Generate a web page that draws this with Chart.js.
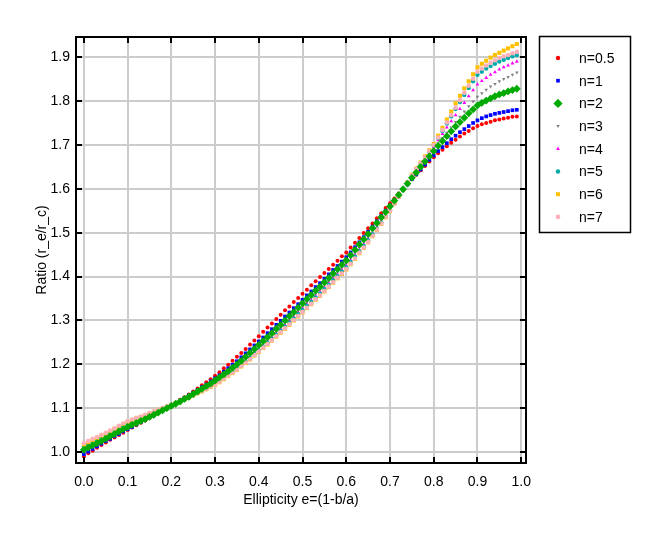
<!DOCTYPE html>
<html>
<head>
<meta charset="utf-8">
<script src="https://cdn.jsdelivr.net/npm/chart.js@4.4.0/dist/chart.umd.min.js"></script>
<style>
  html, body { margin: 0; padding: 0; background: #ffffff; }
  canvas { display: block; }
</style>
</head>
<body>
<canvas id="c" width="663" height="542" style="width:663px;height:542px"></canvas>
<script>
// ---------- DATA ----------
const ellipticity = [
  0.00,0.01,0.02,0.03,0.04,0.05,0.06,0.07,0.08,0.09,
  0.10,0.11,0.12,0.13,0.14,0.15,0.16,0.17,0.18,0.19,
  0.20,0.21,0.22,0.23,0.24,0.25,0.26,0.27,0.28,0.29,
  0.30,0.31,0.32,0.33,0.34,0.35,0.36,0.37,0.38,0.39,
  0.40,0.41,0.42,0.43,0.44,0.45,0.46,0.47,0.48,0.49,
  0.50,0.51,0.52,0.53,0.54,0.55,0.56,0.57,0.58,0.59,
  0.60,0.61,0.62,0.63,0.64,0.65,0.66,0.67,0.68,0.69,
  0.70,0.71,0.72,0.73,0.74,0.75,0.76,0.77,0.78,0.79,
  0.80,0.81,0.82,0.83,0.84,0.85,0.86,0.87,0.88,0.89,
  0.90,0.91,0.92,0.93,0.94,0.95,0.96,0.97,0.98,0.99
];

const ratio_n05 = [
  0.990,0.997,1.003,1.010,1.016,1.022,1.028,1.033,1.039,1.044,
  1.050,1.056,1.061,1.067,1.072,1.078,1.083,1.089,1.094,1.100,
  1.106,1.112,1.119,1.125,1.131,1.138,1.145,1.152,1.159,1.166,
  1.174,1.182,1.191,1.199,1.208,1.217,1.226,1.235,1.245,1.254,
  1.264,1.274,1.284,1.293,1.303,1.313,1.323,1.332,1.342,1.351,
  1.361,1.370,1.380,1.389,1.399,1.408,1.417,1.427,1.436,1.446,
  1.455,1.466,1.477,1.488,1.499,1.510,1.521,1.533,1.544,1.556,
  1.567,1.578,1.589,1.600,1.611,1.622,1.632,1.642,1.652,1.662,
  1.672,1.681,1.689,1.697,1.705,1.712,1.719,1.726,1.732,1.738,
  1.743,1.747,1.750,1.753,1.756,1.758,1.760,1.762,1.764,1.765
];

const ratio_n1 = [
  0.995,1.001,1.007,1.013,1.019,1.025,1.030,1.036,1.041,1.047,
  1.052,1.057,1.063,1.068,1.074,1.079,1.084,1.090,1.095,1.100,
  1.105,1.111,1.117,1.123,1.129,1.135,1.141,1.148,1.154,1.161,
  1.168,1.175,1.183,1.191,1.199,1.207,1.216,1.225,1.234,1.243,
  1.252,1.261,1.271,1.280,1.290,1.299,1.309,1.318,1.328,1.337,
  1.347,1.357,1.366,1.376,1.385,1.395,1.405,1.415,1.424,1.434,
  1.444,1.455,1.467,1.478,1.490,1.502,1.514,1.526,1.538,1.550,
  1.562,1.574,1.586,1.598,1.610,1.622,1.633,1.644,1.655,1.666,
  1.676,1.686,1.695,1.704,1.713,1.721,1.729,1.736,1.743,1.750,
  1.756,1.761,1.765,1.768,1.771,1.773,1.775,1.777,1.779,1.780
];

const ratio_n2 = [
  1.005,1.010,1.015,1.020,1.025,1.030,1.036,1.041,1.047,1.052,
  1.057,1.062,1.066,1.071,1.075,1.080,1.085,1.090,1.095,1.100,
  1.105,1.110,1.115,1.121,1.126,1.132,1.138,1.144,1.150,1.156,
  1.163,1.170,1.177,1.184,1.192,1.200,1.208,1.217,1.226,1.235,
  1.244,1.253,1.262,1.271,1.281,1.290,1.300,1.310,1.319,1.329,
  1.339,1.349,1.358,1.368,1.377,1.387,1.397,1.407,1.417,1.427,
  1.437,1.449,1.461,1.473,1.485,1.497,1.510,1.522,1.535,1.547,
  1.560,1.573,1.586,1.599,1.612,1.625,1.637,1.650,1.662,1.674,
  1.686,1.698,1.709,1.720,1.731,1.742,1.752,1.762,1.772,1.781,
  1.790,1.796,1.801,1.806,1.811,1.815,1.818,1.822,1.825,1.828
];

const ratio_n3 = [
  1.007,1.012,1.017,1.022,1.027,1.032,1.038,1.044,1.049,1.055,
  1.060,1.064,1.069,1.073,1.078,1.082,1.087,1.091,1.096,1.100,
  1.105,1.110,1.115,1.120,1.126,1.131,1.137,1.142,1.148,1.154,
  1.160,1.167,1.174,1.181,1.188,1.196,1.204,1.212,1.221,1.229,
  1.238,1.247,1.256,1.266,1.275,1.284,1.294,1.303,1.313,1.322,
  1.332,1.342,1.351,1.361,1.370,1.380,1.390,1.400,1.410,1.420,
  1.430,1.442,1.454,1.466,1.479,1.491,1.504,1.517,1.530,1.543,
  1.556,1.570,1.584,1.598,1.612,1.626,1.639,1.652,1.666,1.679,
  1.692,1.704,1.716,1.728,1.740,1.752,1.764,1.776,1.788,1.799,
  1.810,1.818,1.826,1.833,1.839,1.845,1.850,1.855,1.860,1.865
];

const ratio_n4 = [
  1.010,1.015,1.020,1.025,1.030,1.035,1.041,1.046,1.052,1.057,
  1.063,1.067,1.071,1.076,1.080,1.084,1.088,1.093,1.097,1.102,
  1.106,1.111,1.115,1.120,1.125,1.130,1.135,1.141,1.146,1.152,
  1.158,1.165,1.172,1.179,1.186,1.193,1.201,1.209,1.217,1.226,
  1.234,1.243,1.252,1.262,1.271,1.280,1.289,1.299,1.308,1.318,
  1.327,1.337,1.346,1.356,1.365,1.375,1.385,1.395,1.405,1.415,
  1.425,1.437,1.449,1.461,1.474,1.486,1.499,1.513,1.526,1.540,
  1.553,1.568,1.583,1.597,1.612,1.627,1.641,1.655,1.669,1.682,
  1.696,1.711,1.725,1.740,1.754,1.768,1.782,1.796,1.811,1.825,
  1.838,1.846,1.853,1.860,1.866,1.872,1.877,1.881,1.886,1.890
];

const ratio_n5 = [
  1.013,1.018,1.023,1.028,1.033,1.038,1.044,1.049,1.055,1.060,
  1.066,1.070,1.074,1.078,1.082,1.086,1.090,1.094,1.099,1.103,
  1.107,1.111,1.116,1.120,1.125,1.130,1.135,1.140,1.145,1.151,
  1.156,1.162,1.169,1.176,1.183,1.190,1.198,1.206,1.214,1.223,
  1.231,1.240,1.249,1.258,1.267,1.276,1.285,1.295,1.304,1.314,
  1.323,1.333,1.342,1.352,1.361,1.371,1.381,1.391,1.401,1.411,
  1.421,1.433,1.445,1.457,1.470,1.482,1.496,1.509,1.523,1.537,
  1.551,1.567,1.582,1.598,1.613,1.629,1.643,1.657,1.671,1.685,
  1.699,1.716,1.732,1.749,1.765,1.782,1.798,1.814,1.830,1.845,
  1.860,1.867,1.874,1.880,1.885,1.890,1.894,1.898,1.902,1.905
];

const ratio_n6 = [
  1.017,1.022,1.027,1.032,1.037,1.042,1.048,1.053,1.058,1.064,
  1.069,1.073,1.077,1.080,1.084,1.088,1.092,1.096,1.099,1.103,
  1.107,1.111,1.115,1.120,1.124,1.129,1.134,1.138,1.143,1.148,
  1.153,1.159,1.166,1.173,1.180,1.187,1.195,1.203,1.211,1.220,
  1.228,1.237,1.245,1.254,1.263,1.272,1.281,1.290,1.300,1.309,
  1.318,1.328,1.337,1.347,1.356,1.366,1.376,1.386,1.396,1.406,
  1.416,1.428,1.440,1.453,1.465,1.478,1.492,1.506,1.520,1.535,
  1.549,1.566,1.582,1.599,1.615,1.632,1.646,1.660,1.674,1.688,
  1.702,1.721,1.739,1.758,1.776,1.795,1.812,1.829,1.845,1.861,
  1.877,1.885,1.892,1.899,1.905,1.910,1.915,1.920,1.925,1.930
];

const ratio_n7 = [
  1.020,1.025,1.030,1.034,1.039,1.044,1.049,1.054,1.060,1.065,
  1.070,1.074,1.078,1.081,1.085,1.089,1.093,1.097,1.100,1.104,
  1.108,1.112,1.116,1.121,1.125,1.130,1.135,1.139,1.144,1.149,
  1.154,1.160,1.167,1.174,1.181,1.188,1.196,1.204,1.212,1.221,
  1.229,1.238,1.246,1.255,1.264,1.273,1.282,1.291,1.301,1.310,
  1.319,1.329,1.338,1.348,1.357,1.367,1.377,1.387,1.397,1.407,
  1.417,1.429,1.441,1.454,1.466,1.479,1.493,1.507,1.521,1.536,
  1.550,1.566,1.582,1.599,1.615,1.631,1.645,1.659,1.672,1.686,
  1.700,1.717,1.734,1.751,1.768,1.785,1.802,1.819,1.835,1.851,
  1.867,1.874,1.881,1.887,1.893,1.898,1.902,1.905,1.909,1.912
];

const seriesLabels = ["n=0.5","n=1","n=2","n=3","n=4","n=5","n=6","n=7"];
const seriesValues = [ratio_n05, ratio_n1, ratio_n2, ratio_n3, ratio_n4, ratio_n5, ratio_n6, ratio_n7];

// ---------- STYLES ----------
const styles = [
  {color:"#ff0000", shape:"circle",   r:2.0, lr:2.2, rot:0, order:7},
  {color:"#0000ff", shape:"rect",     r:2.6, lr:2.6, rot:0, order:6},
  {color:"#00aa00", shape:"rectRot",  r:3.9, lr:4.6, rot:0, order:-1},
  {color:"#808080", shape:"triangle", r:2.0, lr:2.0, rot:180, order:4},
  {color:"#ff00ff", shape:"triangle", r:2.2, lr:2.2, rot:0, order:3},
  {color:"#00aaaa", shape:"circle",   r:2.2, lr:2.2, rot:0, order:2},
  {color:"#ffc000", shape:"rect",     r:2.9, lr:2.8, rot:0, order:1},
  {color:"#ffb0b8", shape:"circle",   r:2.3, lr:2.3, rot:0, order:0}
];

const FONT = "'Liberation Sans', Arial, Helvetica, sans-serif";

const datasets = seriesValues.map((vals, i) => ({
  label: seriesLabels[i],
  data: vals.map((v, k) => ({x: ellipticity[k], y: v})),
  pointStyle: styles[i].shape,
  pointRadius: styles[i].r,
  pointRotation: styles[i].rot,
  pointBackgroundColor: styles[i].color,
  pointBorderColor: styles[i].color,
  pointBorderWidth: 0,
  showLine: false,
  order: styles[i].order
}));

const framePlugin = {
  id: 'frameLegend',
  afterDraw(chart) {
    const ctx = chart.ctx;
    const a = chart.chartArea;
    const xs = chart.scales.x, ys = chart.scales.y;
    ctx.save();
    ctx.strokeStyle = '#000';
    ctx.lineWidth = 2;
    ctx.strokeRect(a.left, a.top, a.right - a.left, a.bottom - a.top);
    const TL = 6;
    ctx.beginPath();
    xs.ticks.forEach(t => {
      const px = Math.round(xs.getPixelForValue(t.value));
      ctx.moveTo(px, a.bottom); ctx.lineTo(px, a.bottom - TL);
      ctx.moveTo(px, a.top); ctx.lineTo(px, a.top + TL);
    });
    ys.ticks.forEach(t => {
      const py = Math.round(ys.getPixelForValue(t.value));
      ctx.moveTo(a.left, py); ctx.lineTo(a.left + TL, py);
      ctx.moveTo(a.right, py); ctx.lineTo(a.right - TL, py);
    });
    ctx.stroke();

    // legend
    const bx = 539.5, by = 36.5, bw = 91, bh = 196;
    ctx.lineWidth = 1.5;
    ctx.strokeStyle = '#000';
    ctx.fillStyle = '#fff';
    ctx.fillRect(bx, by, bw, bh);
    ctx.strokeRect(bx, by, bw, bh);
    ctx.font = '14px ' + FONT;
    ctx.textBaseline = 'middle';
    ctx.textAlign = 'left';
    seriesLabels.forEach((lab, i) => {
      const y = 58 + i * 22.7;
      const s = styles[i];
      ctx.fillStyle = s.color;
      ctx.strokeStyle = s.color;
      ctx.lineWidth = 0;
      Chart.helpers.drawPoint(ctx, {pointStyle: s.shape, radius: s.lr, rotation: s.rot, borderWidth: 0}, 558, y);
      ctx.fillStyle = '#000';
      ctx.fillText(lab, 579, y + 1);
    });
    ctx.restore();
  }
};

new Chart(document.getElementById('c'), {
  type: 'scatter',
  data: { datasets },
  options: {
    responsive: false,
    animation: false,
    devicePixelRatio: 1,
    layout: { padding: { left: 0, top: 37, right: 137, bottom: 0 } },
    plugins: { legend: { display: false }, tooltip: { enabled: false } },
    scales: {
      x: {
        type: 'linear',
        min: -0.018, max: 1.011,
        afterFit: s => { s.height = 79; },
        grid: { color: '#cccccc', lineWidth: 2, drawTicks: false },
        border: { display: false },
        ticks: {
          stepSize: 0.1, includeBounds: false, padding: 11,
          color: '#000', font: { family: FONT, size: 14 },
          callback: v => Number(v).toFixed(1)
        },
        title: {
          display: true, text: 'Ellipticity e=(1-b/a)', color: '#000',
          font: { family: FONT, size: 14 }, padding: { top: 0, bottom: 33 }
        }
      },
      y: {
        type: 'linear',
        min: 0.975, max: 1.946,
        afterFit: s => { s.width = 76; },
        grid: { color: '#cccccc', lineWidth: 2, drawTicks: false },
        border: { display: false },
        ticks: {
          stepSize: 0.1, includeBounds: false, padding: 6,
          color: '#000', font: { family: FONT, size: 14 },
          callback: v => Number(v).toFixed(1)
        },
        title: {
          display: true, text: 'Ratio (r_e/r_c)', color: '#000',
          font: { family: FONT, size: 14 }, padding: { top: 34, bottom: 0 }
        }
      }
    }
  },
  plugins: [framePlugin]
});
</script>
</body>
</html>
